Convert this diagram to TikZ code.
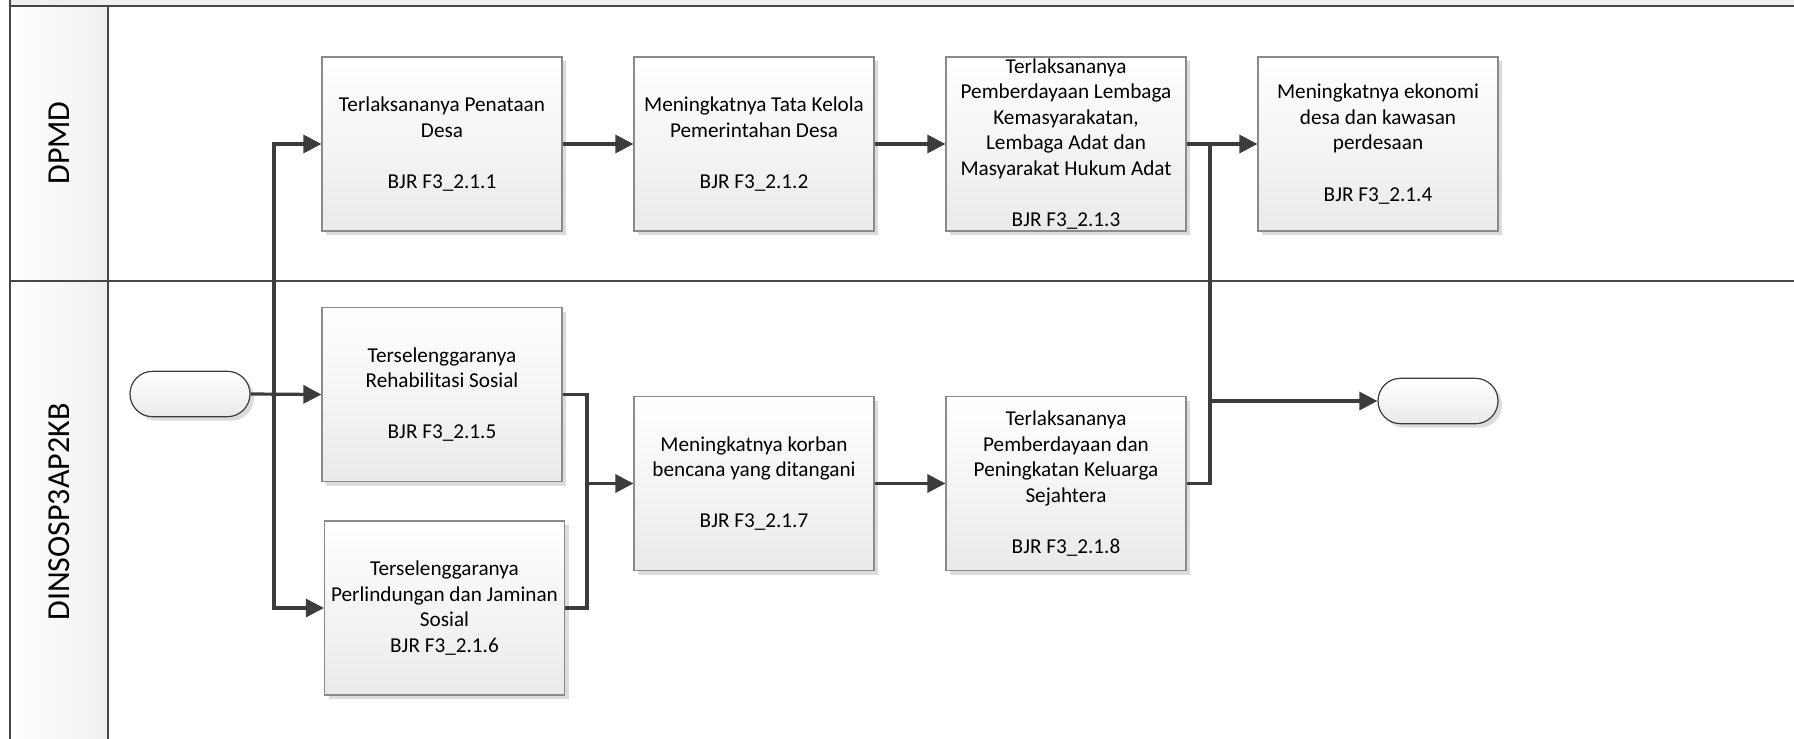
\documentclass[tikz,border=0pt]{standalone}
\usepackage{fontspec}
\setmainfont{Carlito}
\usetikzlibrary{arrows.meta,shadows}
\definecolor{lanegray}{HTML}{474747}
\definecolor{flowgray}{HTML}{3C3C3C}
\definecolor{boxedge}{HTML}{8A8A8A}
\definecolor{boxbot}{HTML}{EAEAEA}
\definecolor{bandgray}{HTML}{F0F0F0}
\definecolor{shadowgray}{HTML}{DCDCDC}

\begin{document}
\begin{tikzpicture}[x=0.5pt,y=-0.5pt,
  proc/.style={draw=boxedge, line width=0.6pt, top color=white, bottom color=boxbot,
    minimum width=120pt, minimum height=87pt, inner sep=0pt, align=center,
    font=\fontsize{10.6}{12.8}\selectfont,
    drop shadow={shadow xshift=2pt, shadow yshift=-2pt, opacity=1, fill=shadowgray}},
  term/.style={draw=flowgray, line width=0.6pt, top color=white, bottom color=boxbot,
    minimum width=60pt, minimum height=22.7pt, rounded corners=11.3pt, inner sep=0pt,
    drop shadow={shadow xshift=2pt, shadow yshift=-2pt, opacity=1, fill=shadowgray}},
  flow/.style={draw=flowgray, line width=1.6pt, -{Triangle[length=9pt,width=9pt]}},
  link/.style={draw=flowgray, line width=1.6pt},
  lane/.style={draw=lanegray, line width=1.1pt},
  lanelabel/.style={rotate=90, font=\fontsize{16}{19}\selectfont}]

\useasboundingbox (0,0) rectangle (1794,739);

% pool frame and lane headers
\fill[bandgray] (10,0) rectangle (1794,6);
\shade[left color=white, right color=bandgray] (10,6) rectangle (108,739);
\draw[lane] (10,6) -- (1794,6);
\draw[lane] (10,281) -- (1794,281);
\draw[lane] (10,0) -- (10,739);
\draw[lane] (108,6) -- (108,739);

\node[lanelabel] (lane1) at (59,143) {DPMD};
\node[lanelabel] (lane2) at (59,512) {DINSOSP3AP2KB};

% process boxes
\node[proc] (b1) at (442,144) {Terlaksananya Penataan\\Desa\\[12.8pt]BJR F3\_2.1.1};
\node[proc] (b2) at (754,144) {Meningkatnya Tata Kelola\\Pemerintahan Desa\\[12.8pt]BJR F3\_2.1.2};
\node[proc] (b3) at (1066,144) {Terlaksananya\\Pemberdayaan Lembaga\\Kemasyarakatan,\\Lembaga Adat dan\\Masyarakat Hukum Adat\\[12.8pt]BJR F3\_2.1.3};
\node[proc] (b4) at (1378,144) {Meningkatnya ekonomi\\desa dan kawasan\\perdesaan\\[12.8pt]BJR F3\_2.1.4};
\node[proc] (b5) at (442,394.5) {Terselenggaranya\\Rehabilitasi Sosial\\[12.8pt]BJR F3\_2.1.5};
\node[proc] (b6) at (444.5,608) {Terselenggaranya\\Perlindungan dan Jaminan\\Sosial\\BJR F3\_2.1.6};
\node[proc] (b7) at (754,483.5) {Meningkatnya korban\\bencana yang ditangani\\[12.8pt]BJR F3\_2.1.7};
\node[proc] (b8) at (1066,483.5) {Terlaksananya\\Pemberdayaan dan\\Peningkatan Keluarga\\Sejahtera\\[12.8pt]BJR F3\_2.1.8};

% start and end terminators
\node[term] (start) at (190,394) {};
\node[term] (end) at (1438,401) {};

% junction points
\coordinate (split) at (274,394);
\coordinate (merge) at (587,483.5);
\coordinate (join) at (1210,144);

% connectors
\draw[flow] (start.east) -- (b5.west);
\draw[flow] (split) |- (b1.west);
\draw[flow] (split) |- (b6.west);
\draw[flow] (b1.east) -- (b2.west);
\draw[flow] (b2.east) -- (b3.west);
\draw[flow] (b3.east) -- (b4.west);
\draw[link] (b5.east) -| (merge);
\draw[link] (b6.east) -| (merge);
\draw[flow] (merge) -- (b7.west);
\draw[flow] (b7.east) -- (b8.west);
\draw[link] (b8.east) -| (join);
\draw[flow] (join |- end.west) -- (end.west);
\end{tikzpicture}
\end{document}
